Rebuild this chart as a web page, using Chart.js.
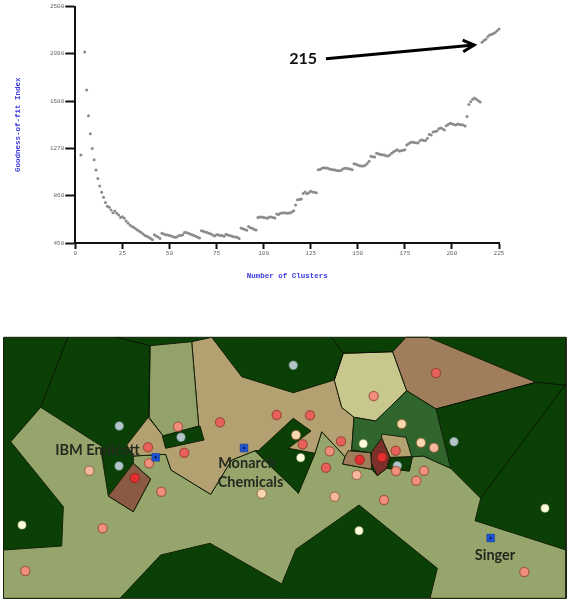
<!DOCTYPE html>
<html lang="en">
<head>
  <meta charset="UTF-8">
  <title>Goodness-of-fit and cluster map</title>
  <script src="https://cdn.jsdelivr.net/npm/chart.js"></script>
  <style>
    html, body { margin: 0; padding: 0; background: #fff; }
    #wrap { position: relative; width: 569px; height: 601px; overflow: hidden; }
    canvas { position: absolute; left: 0; display: block; }
    #fit { top: 0; }
    #map { top: 330px; }
  </style>
</head>
<body>
  <div id="wrap">
    <canvas id="fit" width="569" height="290"></canvas>
    <canvas id="map" width="569" height="271"></canvas>
  </div>

  <script>
    // top chart: index value per number of clusters (gaps in x are real)
    const clusters = [3,5,6,7,8,9,10,11,12,13,14,15,16,17,18,19,20,21,22,23,24,25,26,27,28,29,30,31,32,33,34,35,36,37,38,39,40,41,42,43,44,45,46,47,48,49,50,51,52,53,54,55,56,57,58,59,60,61,62,63,64,65,66,67,68,69,70,71,72,73,74,75,76,77,78,79,80,81,82,83,84,85,86,87,88,89,90,91,92,93,94,95,96,97,98,99,100,101,102,103,104,105,106,107,108,109,110,111,112,113,114,115,116,117,118,119,120,121,122,123,124,125,126,127,128,129,130,131,132,133,134,135,136,137,138,139,140,141,142,143,144,145,146,147,148,149,150,151,152,153,154,155,156,157,158,159,160,161,162,163,164,165,166,167,168,169,170,171,172,173,174,175,176,177,178,179,180,181,182,183,184,185,186,187,188,189,190,191,192,193,194,195,196,197,198,199,200,201,202,203,204,205,206,207,208,209,210,211,212,213,214,215,216,217,218,219,220,221,222,223,224,225];
    const fitIndex = [1212,2105,1776,1553,1397,1270,1172,1082,1010,944,889,846,802,768,759,736,713,727,707,693,672,678,664,641,623,606,592,586,574,563,551,540,528,516,508,499,488,479,522,511,502,490,534,528,522,519,514,511,505,499,502,516,514,522,540,540,534,528,522,514,508,499,493,557,551,545,540,534,528,519,511,522,522,516,514,508,525,519,516,511,505,502,499,490,580,574,566,560,592,583,577,568,563,672,675,675,672,669,664,675,675,672,667,701,698,707,710,713,707,710,710,719,730,779,825,828,831,880,892,877,886,898,892,889,886,1085,1088,1097,1103,1100,1097,1091,1088,1085,1082,1079,1077,1079,1091,1097,1097,1094,1091,1085,1137,1132,1126,1120,1117,1117,1123,1140,1158,1201,1198,1195,1227,1224,1218,1215,1212,1207,1204,1212,1227,1241,1250,1259,1247,1250,1253,1259,1299,1311,1322,1325,1322,1319,1316,1337,1345,1339,1339,1357,1391,1386,1412,1417,1420,1441,1446,1441,1429,1467,1478,1487,1484,1478,1472,1481,1478,1475,1472,1464,1547,1651,1675,1695,1706,1695,1683,1672,2191,2206,2217,2238,2252,2258,2266,2275,2289,2304];
    const xTicks = [0,25,50,75,100,125,150,175,200,225];
    const yTicks = [450,860,1270,1680,2090,2500];

    // arrow pointing at the 215 cluster break, in axis units
    const arrowShaft = [[133.1,2047],[211.8,2166]];
    const arrowHead = [[205.7,2209],[211.8,2166],[206,2108]];

    // map cells, in map units
    const frameCell = [[3.5,7.3],[566,7.3],[566,268.3],[3.5,268.3]];
    const oliveCell = [[3.5,220],[61.7,216],[63.3,176.7],[10.7,111.7],[40.7,77.3],[102.3,116.7],[102.3,128.3],[108.3,166],[133.3,181.7],[150.7,149],[133.3,133.3],[133.3,126],[165.7,124.3],[171,140],[210.7,164.3],[231.7,130],[255,120.7],[290,155],[298.3,163.3],[315,123.3],[321.7,101.7],[345,126.7],[342.7,134],[371.7,139.3],[377.3,145.7],[386.7,138.3],[409.3,141],[412.3,126.7],[423.3,126],[450.7,138.3],[480.7,168.3],[475,190.7],[566,220],[566,268.3],[430,268.3],[437.3,238.3],[359,175],[296,219.3],[281.7,254],[210,213.3],[160.7,225],[120,268.3],[3.5,268.3]];
    const tanCell = [[191.7,11.7],[211.7,7.3],[241.7,46.7],[293.3,62.7],[334.3,50],[341.7,77.3],[354,87.3],[351.7,120],[345,126.7],[321.7,101.7],[315,123.3],[255,120.7],[231.7,130],[210.7,164.3],[171,140],[165.7,124.3],[133.3,126],[126.7,115],[148.3,87.3],[163.3,106],[198.7,96]];
    const sageCell = [[150,15.7],[191.7,11.7],[198.7,96],[163.3,106],[149,87.3]];
    const barCell = [[162.3,106],[200,96],[204,110],[165.7,118.3]];
    const brownCell = [[108.3,166],[133.3,133.3],[150.7,149],[133.3,181.7]];
    const wedgeCell = [[258.3,120.7],[293.3,88.3],[311,101],[288.3,118.3],[315,123.3],[298.3,163.3],[290,155],[255,120.7]];
    const paleCell = [[343.3,23.3],[392.7,21.7],[406.7,60.7],[375.7,91],[354,87.3],[341.7,77.3],[334.3,50]];
    const topBrownCell = [[406,7.3],[428.3,7.3],[536,52.3],[436,79],[406.7,60.7],[392.7,21.7]];
    const greenCell = [[354,87.3],[375.7,91],[406.7,60.7],[436,79],[450.7,138.3],[423.3,126],[412.3,126.7],[386.7,138.3],[370.7,122.7],[351.7,120]];
    const innerTanCell = [[381.7,104],[406,107.3],[411.7,126.7],[390,127.3],[381.7,108.3]];
    const innerDarkCell = [[390,128.3],[412.3,126.7],[409.3,141],[400,140],[386.7,138.3]];
    const darkRedCell = [[381.7,108.3],[390,127.3],[386.7,138.3],[377.3,145.7],[370.7,131.7],[371.7,121.7]];
    const smallBrownCell = [[348.3,120.7],[370.7,122.7],[371.7,139.3],[342.7,134],[345,126.7]];

    // borders between the dark cells
    const borderLines = [
      [[67.7,7.3],[40.7,77.3]],
      [[116.7,7.3],[150,15.7],[149,87.3]],
      [[331.7,7.3],[343.3,23.3],[334.3,50]],
      [[343.3,23.3],[392.7,21.7]],
      [[436,79],[536,52.3],[565,55],[480.7,168.3]],
      [[565,55],[566,55]]
    ];

    // map sites by level
    const blueSites = [[119.3,96],[119,136],[181,107.3],[293.3,35.3],[454,111.7],[397.3,135.7]];
    const creamSites = [[22,195],[363.3,113.7],[300.7,127.7],[359,200.7],[545,178.3]];
    const paleSites = [[296,105],[401.7,94],[421,112.7],[261.7,163.7]];
    const peachSites = [[89.3,140.7],[434,117.7],[356.7,145],[334.7,166.7]];
    const salmonSites = [[178,96.7],[149,133.3],[161.3,161.7],[102.7,198.3],[25.3,241],[373.7,66],[329.7,121.3],[396,141],[424,140.7],[416.3,150.7],[384,170],[524.3,242]];
    const coralSites = [[148,117.3],[184.3,122.7],[220,92.3],[276.7,85],[436,43],[310,85.3],[302.7,114.3],[341,111.3],[395.7,120.7],[326,137.7]];
    const redSites = [[134.7,148],[359.7,129.7],[382,127.3]];
    const companySites = [[155.7,127.3],[244,118],[490.7,208]];

    const fitNotes = [['215',121,2044]];
    const mapNotes = [['IBM Endicott',97.5,120.7],['Monarch',247,133],['Chemicals',250.5,152],['Singer',495,225]];

    const toXY = list => list.map(p => ({ x: p[0], y: p[1] }));

    // writes short notes at axis positions
    function notesPlugin(notes, font, color) {
      return {
        id: 'notes',
        afterDatasetsDraw(chart) {
          const c = chart.ctx;
          c.save();
          c.font = font;
          c.fillStyle = color;
          c.textAlign = 'center';
          c.textBaseline = 'middle';
          notes.forEach(n => {
            c.fillText(n[0], chart.scales.x.getPixelForValue(n[1]), chart.scales.y.getPixelForValue(n[2]));
          });
          c.restore();
        }
      };
    }

    function arrowSet(points) {
      return {
        data: toXY(points), showLine: true, borderColor: '#000', borderWidth: 3,
        pointRadius: 0, borderCapStyle: 'butt', borderJoinStyle: 'miter', clip: false
      };
    }

    new Chart(document.getElementById('fit'), {
      type: 'scatter',
      data: {
        datasets: [
          arrowSet(arrowShaft),
          arrowSet(arrowHead),
          {
            data: clusters.map((c, i) => ({ x: c, y: fitIndex[i] })),
            pointRadius: 1.5, pointBackgroundColor: '#8c8c8c', pointBorderWidth: 0, clip: false
          }
        ]
      },
      options: {
        responsive: false,
        animation: false,
        layout: { autoPadding: false, padding: { left: 0, right: 70, top: 6.5, bottom: 0 } },
        plugins: { legend: { display: false }, tooltip: { enabled: false } },
        scales: {
          x: {
            type: 'linear', min: 0, max: 225,
            afterBuildTicks: s => { s.ticks = xTicks.map(v => ({ value: v })); },
            afterFit: s => { s.height = 47; },
            border: { color: '#111', width: 2 },
            grid: { drawOnChartArea: false, tickLength: 6, tickColor: '#111', tickWidth: 2 },
            ticks: { color: '#666', font: { family: 'Liberation Mono', size: 6 }, padding: 1, maxRotation: 0, autoSkip: false, callback: v => String(v) },
            title: { display: true, text: 'Number of Clusters', color: '#3a3ae0', font: { family: 'Liberation Mono', size: 7.5, weight: 'bold' }, padding: { top: 0, bottom: 9 } }
          },
          y: {
            type: 'linear', min: 450, max: 2500,
            afterBuildTicks: s => { s.ticks = yTicks.map(v => ({ value: v })); },
            afterFit: s => { s.width = 75.3; },
            border: { color: '#111', width: 2 },
            grid: { drawOnChartArea: false, tickLength: 10, tickColor: '#111', tickWidth: 2 },
            ticks: { color: '#666', font: { family: 'Liberation Mono', size: 6 }, padding: 1, autoSkip: false, callback: v => String(v) },
            title: { display: true, text: 'Goodness-of-fit Index', color: '#3a3ae0', font: { family: 'Liberation Mono', size: 7.5, weight: 'bold' }, padding: { top: 14, bottom: 0 } }
          }
        }
      },
      plugins: [notesPlugin(fitNotes, 'bold 16px Lato', '#111')]
    });

    function cellSet(points, color) {
      return {
        data: toXY(points.concat([points[0]])), showLine: true, fill: 'shape',
        backgroundColor: color, borderColor: '#142008', borderWidth: 1,
        pointRadius: 0, tension: 0
      };
    }
    function lineSet(points) {
      return { data: toXY(points), showLine: true, borderColor: '#0a1505', borderWidth: 1, pointRadius: 0, tension: 0 };
    }
    function siteSet(points, color, edge, radius) {
      return {
        data: toXY(points), pointRadius: radius, pointBackgroundColor: color,
        pointBorderColor: edge, pointBorderWidth: 1.2
      };
    }

    // listed bottom layer first, reversed below because Chart.js paints the first dataset last
    const mapLayers = [
      cellSet(frameCell, '#0a4006'),
      cellSet(oliveCell, '#96a56b'),
      cellSet(tanCell, '#b3a171'),
      cellSet(sageCell, '#93a269'),
      cellSet(barCell, '#0a4006'),
      cellSet(brownCell, '#8a5a44'),
      cellSet(wedgeCell, '#0a4006'),
      cellSet(paleCell, '#c8c78d'),
      cellSet(topBrownCell, '#a07e5c'),
      cellSet(greenCell, '#30652d'),
      cellSet(innerTanCell, '#b3a171'),
      cellSet(innerDarkCell, '#0a4006'),
      cellSet(darkRedCell, '#7c2e28'),
      cellSet(smallBrownCell, '#a07e5c')
    ].concat(borderLines.map(lineSet)).concat([
      siteSet(blueSites, '#b2c4c8', 'rgba(130,160,170,.5)', 4.2),
      siteSet(creamSites, '#fffde0', 'rgba(210,205,150,.5)', 4),
      siteSet(paleSites, '#f9d8b0', 'rgba(150,100,60,.7)', 4.6),
      siteSet(peachSites, '#f6b8a0', 'rgba(150,90,60,.7)', 4.6),
      siteSet(salmonSites, '#ef8f7c', 'rgba(150,70,50,.75)', 4.6),
      siteSet(coralSites, '#e8605a', 'rgba(140,60,40,.75)', 4.6),
      siteSet(redSites, '#e62e30', 'rgba(140,40,30,.7)', 4.6),
      { data: toXY(companySites), pointStyle: 'rect', pointRadius: 5.4, pointBackgroundColor: '#1b52d8', pointBorderColor: '#123a90', pointBorderWidth: 0.6 },
      { data: toXY(companySites), pointRadius: 1.1, pointBackgroundColor: '#0a1028', pointBorderWidth: 0 }
    ]);

    new Chart(document.getElementById('map'), {
      type: 'scatter',
      data: { datasets: mapLayers.reverse() },
      options: {
        responsive: false,
        animation: false,
        layout: { autoPadding: false, padding: 0 },
        plugins: { legend: { display: false }, tooltip: { enabled: false } },
        scales: {
          x: { type: 'linear', min: 0, max: 569, display: false },
          y: { type: 'linear', min: 0, max: 271, reverse: true, display: false }
        }
      },
      plugins: [notesPlugin(mapNotes, 'bold 14.5px Lato', '#232b20')]
    });
  </script>
</body>
</html>
